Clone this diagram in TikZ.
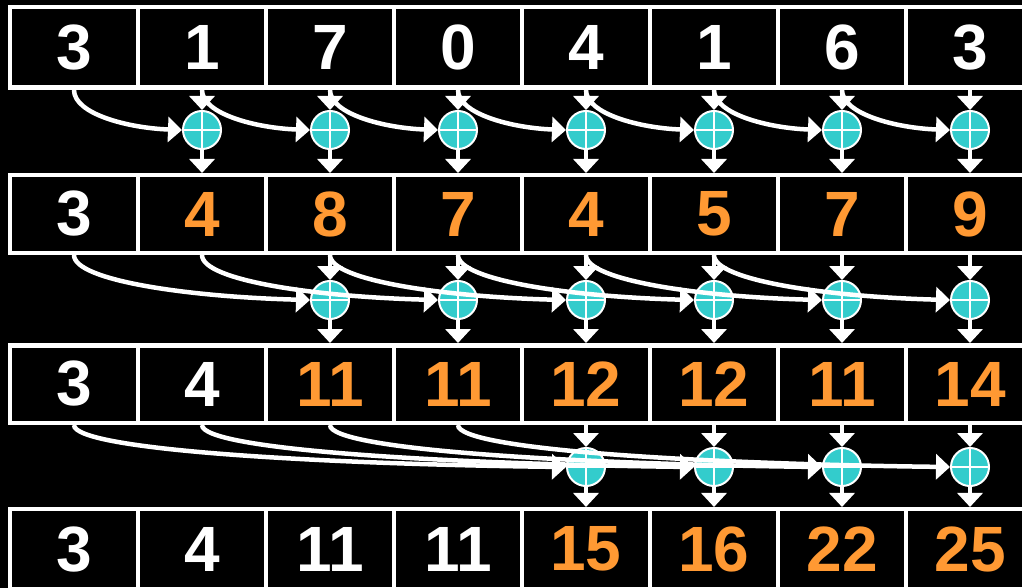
\documentclass[tikz,border=0pt]{standalone}
\usepackage{fontspec}
\setmainfont{Liberation Sans}
\usetikzlibrary{arrows.meta}
\definecolor{tealc}{RGB}{51,204,204}
\definecolor{orangec}{RGB}{255,153,51}
\begin{document}
\begin{tikzpicture}[x=1pt,y=-1pt,
  cell/.style={draw=white, line width=4.5pt, fill=black, minimum width=128pt, inner sep=0pt,
    font=\fontsize{64}{64}\selectfont\bfseries},
  adder/.style={circle, draw=white, line width=2pt, fill=tealc, minimum size=38pt, inner sep=0pt},
  cross/.style={draw=white, line width=2pt},
  arr/.style={draw=white, line width=4.5pt, -{Triangle[width=25pt,length=14pt]}},
]
\useasboundingbox (0,0) rectangle (1022,588);
\fill[black] (0,0) rectangle (1022,588);
\clip (0,0) rectangle (1022,588);

% rows of cells
\foreach \v/\c [count=\n from 0] in {3/white,1/white,7/white,0/white,4/white,1/white,6/white,3/white}
  \node[cell, minimum height=80.5pt, text=\c] (r1c\n) at (74+128*\n,47.5) {\v};
\foreach \v/\c [count=\n from 0] in {3/white,4/orangec,8/orangec,7/orangec,4/orangec,5/orangec,7/orangec,9/orangec}
  \node[cell, minimum height=77.5pt, text=\c] (r2c\n) at (74+128*\n,214) {\v};
\foreach \v/\c [count=\n from 0] in {3/white,4/white,11/orangec,11/orangec,12/orangec,12/orangec,11/orangec,14/orangec}
  \node[cell, minimum height=77.5pt, text=\c] (r3c\n) at (74+128*\n,384) {\v};
\foreach \v/\c [count=\n from 0] in {3/white,4/white,11/white,11/white,15/orangec,16/orangec,22/orangec,25/orangec}
  \node[cell, minimum height=79.75pt, text=\c] (r4c\n) at (74+128*\n,549.1) {\v};

% adders
\foreach \k in {1,...,7} \node[adder] (s1c\k) at (74+128*\k,130) {};
\foreach \k in {2,...,7} \node[adder] (s2c\k) at (74+128*\k,300) {};
\foreach \k in {4,...,7} \node[adder] (s3c\k) at (74+128*\k,467) {};

% crosses and vertical arrows
\foreach \r/\s/\ks in {1/2/{1,...,7},2/3/{2,...,7},3/4/{4,...,7}} {
  \foreach \k in \ks {
    \draw[cross] (s\r c\k.north) -- (s\r c\k.south);
    \draw[cross] (s\r c\k.west) -- (s\r c\k.east);
    \draw[arr] (r\r c\k.south) -- (s\r c\k.north);
    \draw[arr] (s\r c\k.south) -- (r\s c\k.north);
  }
}

% curved arrows
\foreach \j [evaluate=\j as \k using {int(\j+1)}] in {0,...,6}
  \draw[arr] (r1c\j.south) .. controls +(0,24) and +(-54,-2) .. (s1c\k.west);
\foreach \j [evaluate=\j as \k using {int(\j+2)}] in {0,...,5}
  \draw[arr] (r2c\j.south) .. controls +(0,26) and +(-118,-3) .. (s2c\k.west);
\foreach \j [evaluate=\j as \k using {int(\j+4)}] in {0,...,3}
  \draw[arr] (r3c\j.south) .. controls +(0,25) and +(-246,-3) .. (s3c\k.west);
\end{tikzpicture}
\end{document}
